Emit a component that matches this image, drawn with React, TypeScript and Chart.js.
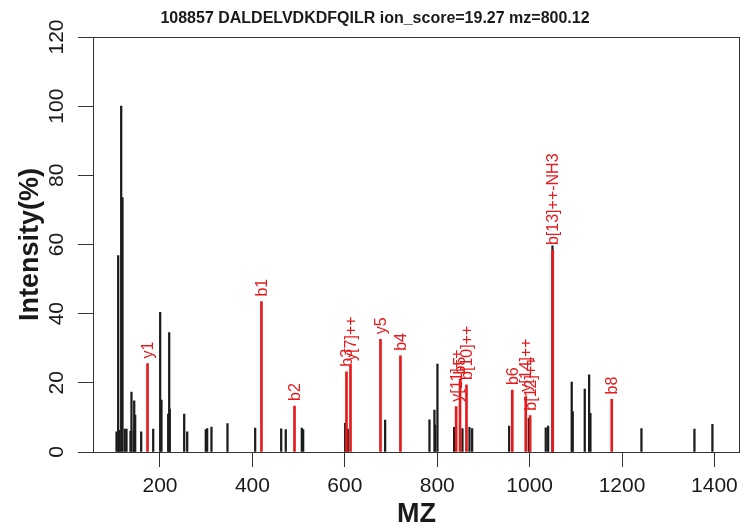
import React, { useEffect, useRef } from 'react';
import { Chart, registerables } from 'chart.js';

Chart.register(...registerables);

const TITLE = '108857 DALDELVDKDFQILR ion_score=19.27 mz=800.12';
const X_LABEL = 'MZ';
const Y_LABEL = 'Intensity(%)';

const xTicks = [200, 400, 600, 800, 1000, 1200, 1400];
const yTicks = [0, 20, 40, 60, 80, 100, 120];
const X_MIN = 55;
const X_MAX = 1455;
const Y_MIN = 0;
const Y_MAX = 120;

// unmatched peaks (black)
const peakMz = [
  105.9, 109.5, 111.7, 116.0, 118.8, 123.8, 127.5, 136.2, 138.3, 143.3, 144.2, 146.3,
  159.3, 185.3, 200.4, 203.2, 217.7, 219.9, 221.2, 252.4, 258.9, 299.1, 302.1, 311.4,
  346.1, 406.0, 462.3, 472.2, 506.9, 509.9, 600.8, 606.4, 687.3, 783.2, 794.0, 795.5,
  800.5, 836.6, 854.6, 869.8, 875.6, 955.7, 998.1, 1034.9, 1040.1, 1049.4, 1091.1,
  1093.3, 1119.3, 1128.8, 1131.6, 1242.0, 1356.7, 1395.6,
];
const peakIntensity = [
  5.8, 56.8, 6.3, 100, 73.6, 6.6, 6.6, 6.0, 17.3, 6.3, 14.8, 10.7,
  5.8, 6.6, 40.4, 15.0, 11.0, 34.5, 12.4, 11.0, 5.8, 6.5, 6.8, 7.2,
  8.2, 6.9, 6.7, 6.5, 6.9, 6.5, 8.3, 6.6, 9.2, 9.3, 12.1, 7.8,
  25.4, 7.1, 6.8, 7.1, 6.8, 7.5, 9.7, 7.0, 7.5, 59.6, 20.2,
  11.7, 18.2, 22.3, 11.2, 6.8, 6.6, 8.0,
];

// matched fragment ions (red)
const ionMz = [
  173.0, 419.6, 491.1, 603.6, 612.3, 677.2, 720.4, 841.0, 849.4, 863.3,
  962.5, 991.6, 1001.1, 1050.0, 1177.7,
];
const ionIntensity = [
  25.6, 43.5, 13.3, 23.2, 24.9, 32.6, 27.8, 13.1, 21.0, 19.4,
  17.9, 16.0, 10.5, 58.4, 15.2,
];
const ionLabels = [
  'y1', 'b1', 'b2', 'b3', 'y[7]++', 'y5', 'b4', 'y[11]++', 'b5', 'b[10]++',
  'b6', 'y[14]++', 'b[12]++', 'b[13]++-NH3', 'b8',
];

const FONT = '"Liberation Sans", Arial, Helvetica, sans-serif';
const RED = '#E41A1C';
const BLACK = '#1c1c1c';
const AXIS = '#333333';
const TEXT = '#1a1a1a';

const rPlotPlugin = {
  id: 'rPlot',
  afterDraw(chart: any) {
    const { ctx, chartArea: a, scales } = chart;
    const xs = scales.x;
    const ys = scales.y;
    ctx.save();
    // box
    ctx.strokeStyle = AXIS;
    ctx.lineWidth = 1;
    ctx.strokeRect(Math.round(a.left) + 0.5, Math.round(a.top) + 0.5,
      Math.round(a.right - a.left) - 1, Math.round(a.bottom - a.top));

    // rotated y tick labels
    ctx.fillStyle = TEXT;
    ctx.font = `21px ${FONT}`;
    ctx.textAlign = 'center';
    ctx.textBaseline = 'middle';
    ys.ticks.forEach((t: any) => {
      const py = ys.getPixelForValue(t.value);
      ctx.save();
      ctx.translate(a.left - 36, py);
      ctx.rotate(-Math.PI / 2);
      ctx.fillText(String(t.value), 0, 0);
      ctx.restore();
    });

    // ion labels
    ctx.fillStyle = RED;
    ctx.font = `16px ${FONT}`;
    ctx.textAlign = 'left';
    ctx.textBaseline = 'middle';
    ionMz.forEach((m, i) => {
      const px = xs.getPixelForValue(m);
      const py = ys.getPixelForValue(ionIntensity[i]) - 5;
      ctx.save();
      ctx.translate(px + 1, py);
      ctx.rotate(-Math.PI / 2);
      ctx.fillText(ionLabels[i], 0, 0);
      ctx.restore();
    });

    // title
    ctx.fillStyle = TEXT;
    ctx.font = `bold 16px ${FONT}`;
    ctx.textAlign = 'center';
    ctx.textBaseline = 'middle';
    ctx.fillText(TITLE, 375, 19);
    ctx.restore();
  },
};

export default function App() {
  const canvasRef = useRef<HTMLCanvasElement | null>(null);

  useEffect(() => {
    const canvas = canvasRef.current;
    if (!canvas) return;
    const chart = new Chart(canvas, {
      type: 'bar',
      data: {
        datasets: [
          {
            label: 'matched',
            data: ionMz.map((m, i) => ({ x: m, y: ionIntensity[i] })),
            backgroundColor: RED,
            barThickness: 2,
            grouped: false,
            order: 0,
          } as any,
          {
            label: 'peaks',
            data: peakMz.map((m, i) => ({ x: m, y: peakIntensity[i] })),
            backgroundColor: BLACK,
            barThickness: 1.6,
            grouped: false,
            order: 1,
          } as any,
        ],
      },
      options: {
        animation: false,
        responsive: false,
        devicePixelRatio: 1,
        events: [],
        layout: { padding: { top: 37, right: 5, left: 0, bottom: 0 } },
        plugins: {
          legend: { display: false },
          tooltip: { enabled: false },
          title: { display: false },
        },
        scales: {
          x: {
            type: 'linear',
            min: X_MIN,
            max: X_MAX,
            offset: false,
            afterBuildTicks: (s: any) => {
              s.ticks = xTicks.map((v) => ({ value: v }));
            },
            afterFit: (s: any) => {
              s.height = 77;
            },
            grid: {
              display: true,
              drawOnChartArea: false,
              drawTicks: true,
              tickLength: 15,
              color: AXIS,
              offset: false,
            },
            border: { display: false },
            ticks: {
              font: { family: FONT, size: 21 },
              color: TEXT,
              padding: 7,
              maxRotation: 0,
              minRotation: 0,
              autoSkip: false,
              callback: (v: any) => String(v),
            },
            title: {
              display: true,
              text: X_LABEL,
              font: { family: FONT, size: 27, weight: 'bold', lineHeight: 1 },
              color: TEXT,
              padding: { top: 0, bottom: 1 },
            },
          },
          y: {
            type: 'linear',
            min: Y_MIN,
            max: Y_MAX,
            afterBuildTicks: (s: any) => {
              s.ticks = yTicks.map((v) => ({ value: v }));
            },
            afterFit: (s: any) => {
              s.width = 93;
            },
            grid: {
              display: true,
              drawOnChartArea: false,
              drawTicks: true,
              tickLength: 15,
              color: AXIS,
            },
            border: { display: false },
            ticks: { display: false },
            title: {
              display: true,
              text: Y_LABEL,
              font: { family: FONT, size: 27, weight: 'bold', lineHeight: 1 },
              color: TEXT,
              padding: { top: 17, bottom: 0 },
            },
          },
        },
      },
      plugins: [rPlotPlugin],
    } as any);
    return () => chart.destroy();
  }, []);

  return (
    <div style={{ position: 'absolute', left: 0, top: 0, width: 745, height: 529, background: '#fff' }}>
      <canvas ref={canvasRef} width={745} height={529} style={{ display: 'block' }} />
    </div>
  );
}
